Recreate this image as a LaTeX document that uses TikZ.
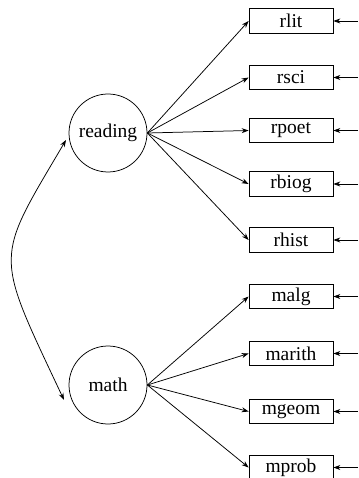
\documentclass[tikz,border=0pt]{standalone}
\usepackage{fontspec}
\setmainfont{Liberation Serif}
\usetikzlibrary{arrows.meta}
\begin{document}
\begin{tikzpicture}[x=1pt,y=-1pt,
  font=\fontsize{19.5}{22}\selectfont,
  every path/.style={line width=0.75pt},
  latent/.style={draw, circle, minimum size=78pt, inner sep=0pt},
  obs/.style={draw, rectangle, minimum width=84pt, minimum height=24.5pt, inner sep=0pt},
  arr/.style={-{Stealth[length=7pt,width=5pt]}},
  darr/.style={{Stealth[length=7pt,width=5pt]}-{Stealth[length=7pt,width=5pt]}}]
\useasboundingbox (0,0) rectangle (358,478);
\node[latent] (reading) at (108,133) {reading};
\node[latent] (math) at (108,385) {math};
\foreach \n/\y in {rlit/21, rsci/77.5, rpoet/130.5, rbiog/184, rhist/240,
                   malg/296.5, marith/353.5, mgeom/411.5, mprob/467.5} {
  \node[obs] (\n) at (291,\y) {\n};
  \coordinate (e\n) at (358,\y);
  \draw[arr] (e\n) -- (\n.east);
}
\foreach \n in {rlit, rsci, rpoet, rbiog, rhist}
  \draw[arr] (reading.east) -- (\n.west);
\foreach \n in {malg, marith, mgeom, mprob}
  \draw[arr] (math.east) -- (\n.west);
\coordinate (cs) at (66,140);
\coordinate (ce) at (64,400);
\draw[darr] (cs) .. controls (-6,262) and (-6,251) .. (ce);
\end{tikzpicture}
\end{document}
